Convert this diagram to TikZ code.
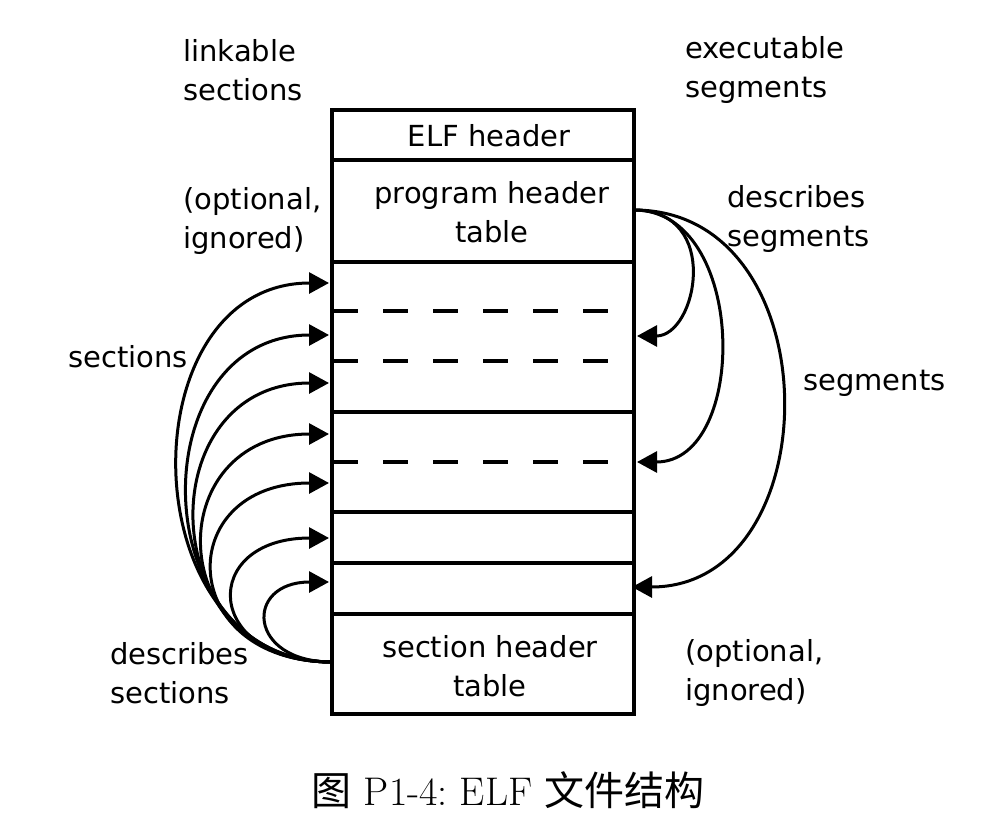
\documentclass[tikz,border=0pt]{standalone}
\usepackage{fontspec}
\setmainfont{Latin Modern Roman}
\newfontfamily\dejavu{DejaVu Sans}
\newfontfamily\cjk{Noto Sans CJK SC}
\usetikzlibrary{arrows.meta}
\begin{document}
\begin{tikzpicture}[x=1pt,y=-1pt,
  lbl/.style={font=\dejavu\fontsize{29}{39}\selectfont, inner sep=0pt},
  lbll/.style={lbl, anchor=west, align=left},
  row/.style={draw, line width=3.2pt, minimum width=302pt, inner sep=0pt, align=center,
    font=\dejavu\fontsize{29}{39}\selectfont},
  txt/.style={inner sep=0pt, align=center, font=\dejavu\fontsize{29}{39}\selectfont},
  arr/.style={line width=3pt, -{Triangle[length=20pt,width=21pt]}},
  dsh/.style={line width=3.2pt, dash pattern=on 25pt off 25pt}]
\useasboundingbox (0,0) rectangle (1006,816);
% rows of the file
\node[row, minimum height=50pt]  (elf) at (483,135) {};
\node[row, minimum height=102pt] (pht) at (483,211) {};
\node[row, minimum height=150pt] (s1)  at (483,337) {};
\node[row, minimum height=100pt] (s2)  at (483,462) {};
\node[row, minimum height=51pt]  (s3)  at (483,537.5) {};
\node[row, minimum height=51pt]  (s4)  at (483,588.5) {};
\node[row, minimum height=100pt] (sht) at (483,664) {};
\node[txt] (elft) at (489,136) {ELF header};
\node[txt] (phtt) at (492,212) {program header\\table};
\node[txt] (shtt) at (490,666) {section header\\table};
% dashed lines
\coordinate (d1a) at (333,311); \coordinate (d1b) at (620,311);
\coordinate (d2a) at (333,361); \coordinate (d2b) at (620,361);
\coordinate (d3a) at (333,462); \coordinate (d3b) at (620,462);
\draw[dsh] (d1a) -- (d1b);
\draw[dsh] (d2a) -- (d2b);
\draw[dsh] (d3a) -- (d3b);
% labels
\node[lbll] (lk) at (183,70) {linkable\\sections};
\node[lbll] (ex) at (685,70) {executable\\segments};
\node[lbll] (oi1) at (183,221) {(optional,\\ignored)};
\node[lbll] (ds) at (727,219) {describes\\segments};
\node[lbll] (sc) at (68,357) {sections};
\node[lbll] (sg) at (803,383) {segments};
\node[lbll] (dsc) at (110,673) {describes\\sections};
\node[lbll] (oi2) at (685,673) {(optional,\\ignored)};
% left arrows
\coordinate (L0) at (332,662);
\coordinate (t1) at (329,283);
\coordinate (t2) at (329,335);
\coordinate (t3) at (329,383);
\coordinate (t4) at (329,434);
\coordinate (t5) at (329,483);
\coordinate (t6) at (329,538);
\coordinate (t7) at (329,582);
\draw[arr] (L0) .. controls (129,662) and (126,283) .. (t1);
\draw[arr] (L0) .. controls (142,662) and (139,335) .. (t2);
\draw[arr] (L0) .. controls (152,662) and (149,383) .. (t3);
\draw[arr] (L0) .. controls (162,662) and (159,434) .. (t4);
\draw[arr] (L0) .. controls (175,662) and (172,483) .. (t5);
\draw[arr] (L0) .. controls (202,662) and (199,538) .. (t6);
\draw[arr] (L0) .. controls (247,662) and (244,582) .. (t7);
% right arrows
\coordinate (R0) at (634,210);
\coordinate (u1) at (637,336);
\coordinate (u2) at (637,462);
\coordinate (u3) at (632,587);
\draw[arr] (R0) .. controls (722,210) and (697,336) .. (u1);
\draw[arr] (R0) .. controls (748,210) and (749,462) .. (u2);
\draw[arr] (R0) .. controls (833,210) and (831,587) .. (u3);
% caption
\node[inner sep=0pt, font=\fontsize{40}{44}\selectfont] (cap) at (508,790)
  {{\cjk 图}\ P1-4:\ ELF\ {\cjk 文件结构}};
\end{tikzpicture}
\end{document}
